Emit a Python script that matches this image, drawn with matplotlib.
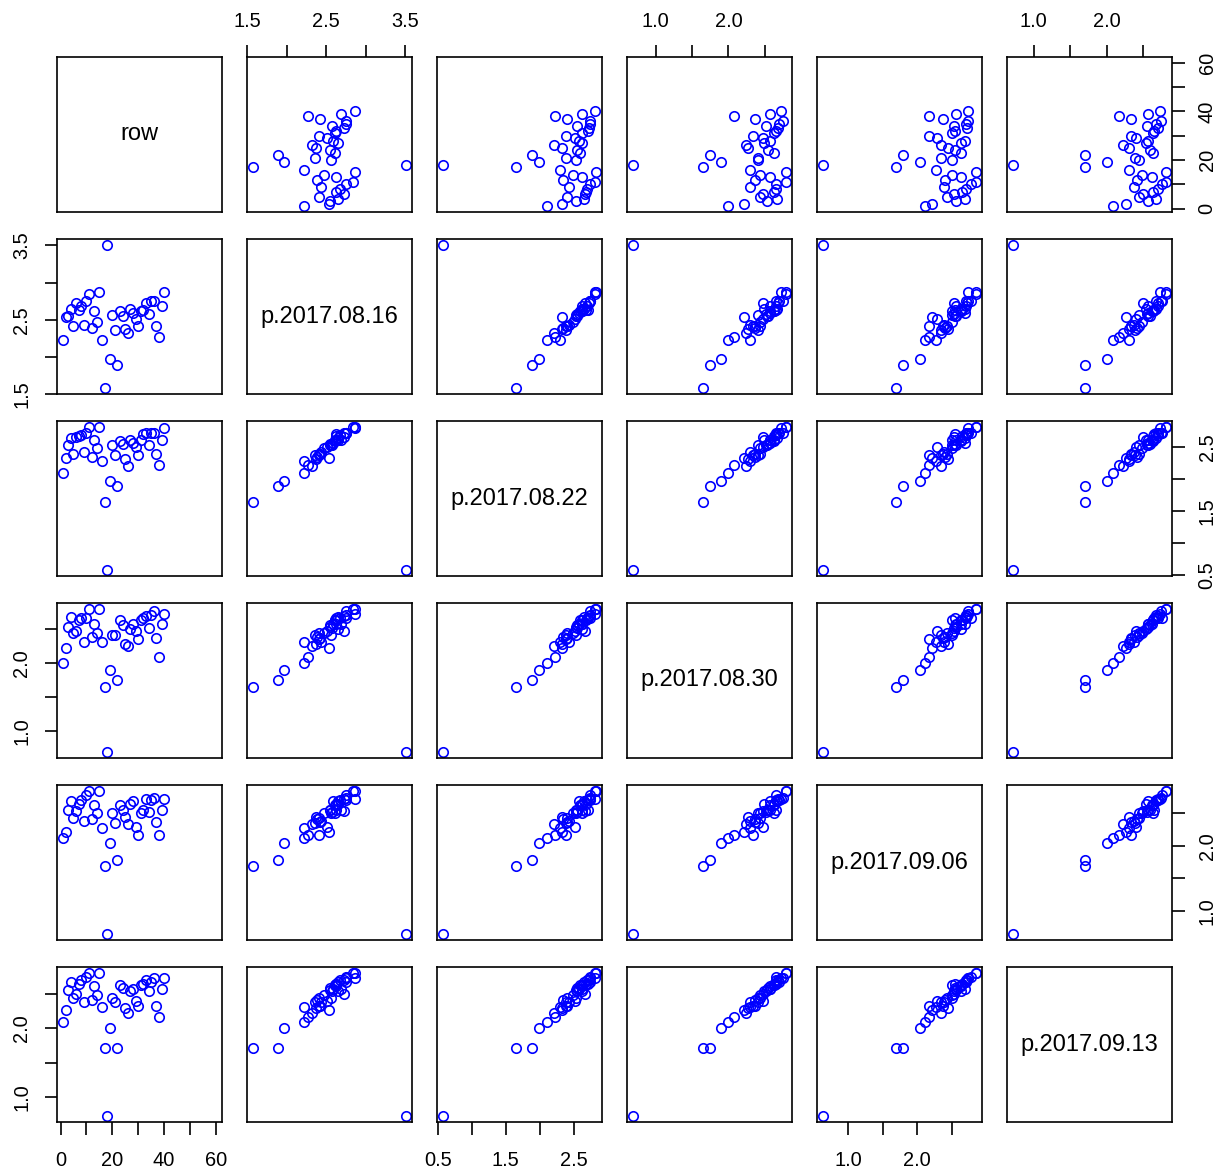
import numpy as np
import matplotlib
matplotlib.use("Agg")
import matplotlib.pyplot as plt

plt.rcParams['font.family'] = ['Liberation Sans', 'DejaVu Sans']

# variable names as they appear on the diagonal
names = ["row", "p.2017.08.16", "p.2017.08.22", "p.2017.08.30", "p.2017.09.06", "p.2017.09.13"]

# row index runs 1..60, only the first 40 have prices
row = list(range(1, 61))

p16 = [2.22, 2.53, 2.55, 2.65, 2.41, 2.73, 2.63, 2.68, 2.43, 2.75,
       2.84, 2.39, 2.62, 2.47, 2.87, 2.22, 1.575, 3.51, 1.97, 2.56,
       2.36, 1.89, 2.61, 2.55, 2.37, 2.32, 2.65, 2.59, 2.51, 2.41,
       2.61, 2.63, 2.72, 2.58, 2.75, 2.75, 2.42, 2.27, 2.69, 2.87]
p22 = [2.10, 2.33, 2.53, 2.64, 2.40, 2.66, 2.67, 2.69, 2.42, 2.73,
       2.81, 2.34, 2.62, 2.49, 2.82, 2.29, 1.65, 0.58, 1.98, 2.53,
       2.38, 1.89, 2.59, 2.55, 2.32, 2.21, 2.62, 2.57, 2.51, 2.38,
       2.62, 2.71, 2.72, 2.54, 2.73, 2.73, 2.40, 2.22, 2.62, 2.80]
p30 = [2.00, 2.21, 2.53, 2.67, 2.44, 2.47, 2.62, 2.66, 2.30, 2.65,
       2.79, 2.37, 2.57, 2.43, 2.79, 2.30, 1.65, 0.69, 1.90, 2.40,
       2.40, 1.75, 2.62, 2.55, 2.27, 2.24, 2.49, 2.57, 2.47, 2.34,
       2.62, 2.66, 2.68, 2.51, 2.70, 2.75, 2.36, 2.08, 2.57, 2.72]
p06 = [2.12, 2.21, 2.56, 2.69, 2.43, 2.54, 2.65, 2.70, 2.39, 2.78,
       2.85, 2.41, 2.63, 2.51, 2.85, 2.28, 1.69, 0.64, 2.04, 2.50,
       2.35, 1.79, 2.63, 2.55, 2.45, 2.34, 2.64, 2.69, 2.29, 2.17,
       2.50, 2.55, 2.72, 2.53, 2.70, 2.74, 2.37, 2.17, 2.56, 2.73]
p13 = [2.09, 2.27, 2.56, 2.68, 2.44, 2.50, 2.64, 2.70, 2.38, 2.75,
       2.81, 2.42, 2.62, 2.48, 2.81, 2.31, 1.71, 0.72, 2.01, 2.44,
       2.39, 1.71, 2.63, 2.59, 2.30, 2.22, 2.54, 2.57, 2.40, 2.33,
       2.63, 2.65, 2.70, 2.55, 2.68, 2.74, 2.33, 2.17, 2.57, 2.73]

# tick positions and which of them carry a label
ticks = [
    [0, 10, 20, 30, 40, 50, 60],
    [1.5, 2.0, 2.5, 3.0, 3.5],
    [0.5, 1.0, 1.5, 2.0, 2.5],
    [1.0, 1.5, 2.0, 2.5],
    [1.0, 1.5, 2.0, 2.5],
    [1.0, 1.5, 2.0, 2.5],
]
tick_labels = [
    ["0", "", "20", "", "40", "", "60"],
    ["1.5", "", "2.5", "", "3.5"],
    ["0.5", "", "1.5", "", "2.5"],
    ["1.0", "", "2.0", ""],
    ["1.0", "", "2.0", ""],
    ["1.0", "", "2.0", ""],
]


def pad_series(vals, n):
    out = np.full(n, np.nan)
    out[:len(vals)] = vals
    return out


n = len(row)
data = [np.array(row, dtype=float)] + [pad_series(v, n) for v in (p16, p22, p30, p06, p13)]

# R style axis range: data range stretched by 4% on both ends
lims = []
for v in data:
    lo, hi = np.nanmin(v), np.nanmax(v)
    d = 0.04 * (hi - lo)
    lims.append((lo - d, hi + d))

W, H = 1221, 1172
fig = plt.figure(figsize=(W / 100, H / 100), dpi=100)

k = len(names)
pw, ph = 165, 155
for i in range(k):
    for j in range(k):
        x0 = 57 + 190 * j
        y0 = 57 + 182 * i
        ax = fig.add_axes([x0 / W, 1 - (y0 + ph) / H, pw / W, ph / H])
        ax.set_xlim(lims[j])
        ax.set_ylim(lims[i])
        for s in ax.spines.values():
            s.set_linewidth(1.2)
        ax.tick_params(which="both", bottom=False, top=False, left=False, right=False,
                       labelbottom=False, labeltop=False, labelleft=False, labelright=False)
        ax.tick_params(direction="out", length=9, width=1.2, labelsize=14.4, pad=9.5)

        if i == j:
            ax.text(0.5, 0.5, names[i], transform=ax.transAxes,
                    ha="center", va="center", fontsize=17)
        else:
            ax.plot(data[j], data[i], "o", mfc="none", mec="blue", ms=6.8, mew=1.2)

        # x axes alternate: bottom for odd columns (1-based), top for even
        if i == k - 1 and j % 2 == 0:
            ax.set_xticks(ticks[j], tick_labels[j])
            ax.tick_params(axis="x", bottom=True, labelbottom=True, pad=12)
        if i == 0 and j % 2 == 1:
            ax.set_xticks(ticks[j], tick_labels[j])
            ax.tick_params(axis="x", top=True, labeltop=True)
        # y axes alternate: right for odd rows (1-based), left for even
        if j == 0 and i % 2 == 1:
            ax.set_yticks(ticks[i], tick_labels[i], rotation=90, va="center")
            ax.tick_params(axis="y", left=True, labelleft=True)
        if j == k - 1 and i % 2 == 0:
            ax.set_yticks(ticks[i], tick_labels[i], rotation=90, va="center")
            ax.tick_params(axis="y", right=True, labelright=True)

fig.savefig("out.png", dpi=100)
